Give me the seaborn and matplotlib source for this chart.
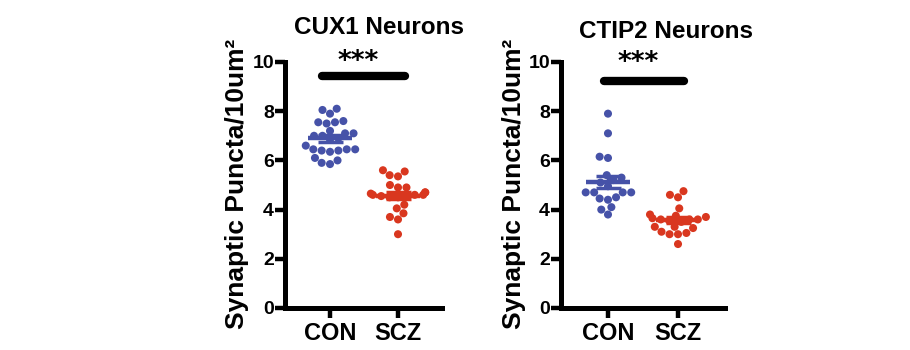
import numpy as np
import pandas as pd
import matplotlib
matplotlib.use("Agg")
import matplotlib.pyplot as plt
import seaborn as sns

# Synaptic puncta per 10 um^2, per neuron
groups = ["CON", "SCZ"]
cux1_con = [8.1, 8.05, 7.9, 7.55, 7.5, 7.55, 7.6, 7.2, 7.1, 7.0, 7.1, 6.9, 6.85, 7.0,
            6.6, 6.45, 6.4, 6.45, 6.4, 6.35, 6.45, 6.1, 6.0, 5.85, 5.9]
cux1_scz = [5.6, 5.55, 5.4, 5.35, 4.9, 4.9, 5.0, 4.7, 4.6, 4.55, 4.6, 4.65, 4.5,
            4.55, 4.7, 4.6, 4.5, 4.2, 4.05, 3.85, 3.7, 3.6, 3.0]
ctip2_con = [7.9, 7.1, 6.15, 6.1, 5.4, 5.3, 5.2, 5.1, 4.95, 4.7, 4.7, 4.7, 4.7,
             4.5, 4.45, 4.4, 4.1, 4.0, 3.8]
ctip2_scz = [4.75, 4.6, 4.5, 4.05, 3.8, 3.75, 3.7, 3.65, 3.6, 3.6, 3.55, 3.5, 3.6,
             3.3, 3.25, 3.3, 3.1, 3.05, 3.0, 3.0, 2.6]
panel_titles = ["CUX1 Neurons", "CTIP2 Neurons"]
y_ticks = [0, 2, 4, 6, 8, 10]
significance = "***"

BLUE = "#4652a8"
RED = "#d9371f"
FONT = "Liberation Sans"

sns.set_theme(style="ticks")
plt.rcParams["font.family"] = [FONT, "DejaVu Sans"]
plt.rcParams["font.weight"] = "bold"
for key in ("text.color", "axes.labelcolor", "xtick.color", "ytick.color",
            "axes.edgecolor"):
    plt.rcParams[key] = "black"

fig = plt.figure(figsize=(9.1, 3.5), dpi=100)
W, H = 910, 350


def px_axes(x0, x1, y_top, y_bot):
    return fig.add_axes([x0 / W, 1 - y_bot / H, (x1 - x0) / W, (y_bot - y_top) / H])


panels = [
    dict(con=cux1_con, scz=cux1_scz, title=panel_titles[0],
         box=(285, 442, 62, 308), xlim=(-0.662, 1.647),
         title_xy=(379, 27), ylab_x=237, bar=(-0.12, 1.1, 9.43), star_y=10.0),
    dict(con=ctip2_con, scz=ctip2_scz, title=panel_titles[1],
         box=(561, 725, 62, 308), xlim=(-0.671, 1.671),
         title_xy=(666, 32), ylab_x=514, bar=(-0.05, 1.08, 9.23), star_y=9.95),
]

for p in panels:
    ax = px_axes(*p["box"])
    df = pd.DataFrame({
        "group": ["CON"] * len(p["con"]) + ["SCZ"] * len(p["scz"]),
        "value": list(p["con"]) + list(p["scz"]),
    })
    sns.swarmplot(data=df, x="group", y="value", hue="group", order=groups,
                  hue_order=groups, palette=[BLUE, RED], size=5.8, ax=ax,
                  legend=False, linewidth=0, zorder=2)

    # mean line with SEM error bars
    stats = df.groupby("group")["value"].agg(["mean", "sem"]).reindex(groups)
    for i, (g, col) in enumerate(zip(groups, [BLUE, RED])):
        m, s = stats.loc[g, "mean"], stats.loc[g, "sem"]
        ax.hlines(m, i - 0.32, i + 0.32, color=col, lw=3.2, zorder=3)
        ax.errorbar(i, m, yerr=s, color=col, lw=2.5, capsize=9, capthick=2.5,
                    zorder=3)

    ax.set_ylim(0, 10)
    ax.set_xlim(*p["xlim"])
    ax.set_yticks(y_ticks)
    ax.set_yticklabels([str(t) for t in y_ticks], fontsize=14, fontweight="bold",
                       family=FONT)
    ax.set_xticks(range(len(groups)))
    ax.set_xticklabels(groups, fontsize=17, fontweight="bold", family=FONT)
    ax.set_xlabel("")
    ax.set_ylabel("")
    for side in ("top", "right"):
        ax.spines[side].set_visible(False)
    for side in ("left", "bottom"):
        ax.spines[side].set_linewidth(3.6)
        ax.spines[side].set_color("black")
        ax.spines[side].set_capstyle("projecting")
    ax.tick_params(axis="y", length=7, width=3.2, pad=1, colors="black")
    ax.tick_params(axis="x", length=7, width=3.2, pad=3, colors="black")

    # significance bracket
    x0, x1, yb = p["bar"]
    ax.plot([x0, x1], [yb, yb], color="black", lw=6, solid_capstyle="round",
            clip_on=False, zorder=4)
    ax.text((x0 + x1) / 2 - 0.08, p["star_y"], significance, ha="center",
            va="center", fontsize=19, fontweight="bold", family="DejaVu Sans",
            color="black", clip_on=False)

    tx, ty = p["title_xy"]
    fig.text(tx / W, 1 - ty / H, p["title"], ha="center", va="center",
             fontsize=17.5, fontweight="bold", family=FONT, color="black")
    fig.text(p["ylab_x"] / W, 1 - 184 / H, "Synaptic Puncta/10um²", rotation=90,
             ha="center", va="center", fontsize=19, fontweight="bold", family=FONT,
             color="black")

fig.savefig("out.png", dpi=100, facecolor="white")
